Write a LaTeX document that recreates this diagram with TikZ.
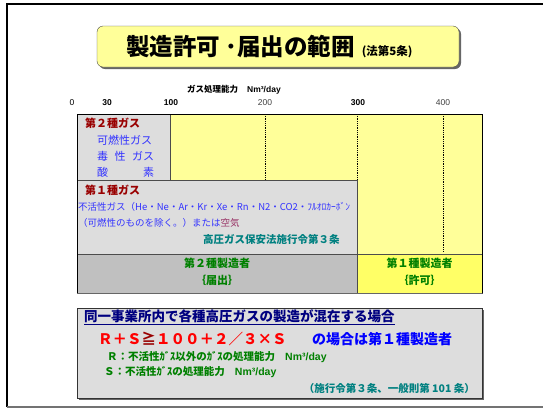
\documentclass[tikz,border=0pt]{standalone}
\usepackage{fontspec}
\setmainfont{Noto Sans CJK JP}
\newfontfamily\arial{Liberation Sans}
\definecolor{lyellow}{HTML}{FFFF99}
\definecolor{byellow}{HTML}{FFFF66}
\definecolor{lgray}{HTML}{DDDDDD}
\definecolor{dgray}{HTML}{C0C0C0}
\definecolor{dred}{HTML}{990000}
\definecolor{jblue}{HTML}{3333FF}
\definecolor{jteal}{HTML}{008080}
\definecolor{jgreen}{HTML}{008000}
\definecolor{jnavy}{HTML}{000080}
\definecolor{jpurple}{HTML}{993366}
\begin{document}
\begin{tikzpicture}[x=1pt,y=-1pt,
  txt/.style={inner sep=0pt, anchor=west},
  tick/.style={inner sep=0pt, font=\arial\fontsize{8.5}{10}\selectfont},
  cell/.style={draw=black!70, line width=0.8pt},
  dotline/.style={densely dotted, line width=0.8pt}]
\useasboundingbox (0,0) rectangle (543,408);
% slide frame
\draw[line width=2pt] (7,407) -- (7,4) -- (543,4);
\draw[black!55, line width=1.5pt] (7,407) -- (543,407);
% title
\fill[black!60, rounded corners=6pt] (99,28) rectangle (461,69);
\node[draw=black!70, fill=lyellow, rounded corners=6pt, minimum width=362pt, minimum height=41pt, inner sep=0pt] (title) at (278,46.5) {};
\node[txt] (titletxt) at (126,47) {\bfseries\fontsize{23.5}{25}\selectfont 製造許可 ･届出の範囲\hspace{7pt}{\fontsize{11.5}{13}\selectfont (法第5条)}};
% axis label & ticks
\node[txt] (axis) at (187,90) {\bfseries\fontsize{8.5}{10}\selectfont ガス処理能力\hspace{9pt}{\arial Nm³/day}};
\node[tick] (t0) at (72,103) {0};
\node[tick, font=\arial\bfseries\fontsize{8.5}{10}\selectfont] (t30) at (107,103) {30};
\node[tick, font=\arial\bfseries\fontsize{8.5}{10}\selectfont] (t100) at (171,103) {100};
\node[tick, text=black!75] (t200) at (265,103) {200};
\node[tick, font=\arial\bfseries\fontsize{8.5}{10}\selectfont] (t300) at (358,103) {300};
\node[tick, text=black!75] (t400) at (443,103) {400};
% chart
\fill[lyellow] (170,114) rectangle (482,254);
\draw[dotline] (265,114) -- (265,252);
\draw[dotline] (443,114) -- (443,252);
\draw[dotline] (357,114) -- (357,180);
\draw[cell, fill=lgray] (77,114) rectangle (170,180);
\draw[cell, fill=lgray] (77,180) rectangle (357,254);
\draw[cell, fill=dgray] (77,254) rectangle (357,293);
\draw[cell, fill=byellow] (357,254) rectangle (482,293);
\draw[black, line width=0.8pt] (77,293) -- (77,114) -- (482,114) -- (482,293);
\draw[black!60, line width=1.5pt] (77,293.5) -- (482,293.5);
% second-class gas
\node[txt, text=dred] (g2) at (85,123) {\bfseries\fontsize{11}{12}\selectfont 第２種ガス};
\node[txt, text=jblue] (g2a) at (97,140) {\fontsize{11}{12}\selectfont 可燃性ガス};
\node[txt, text=jblue] (g2b) at (97,156) {\fontsize{11}{12}\selectfont\makebox[57pt][s]{毒\hfill 性\hfill ガス}};
\node[txt, text=jblue] (g2c) at (97,172) {\fontsize{11}{12}\selectfont\makebox[57pt][s]{酸\hfill 素}};
% first-class gas
\node[txt, text=dred] (g1) at (85,190) {\bfseries\fontsize{11}{12}\selectfont 第１種ガス};
\node[txt, text=jblue] (g1a) at (78,207) {\fontsize{9.5}{11}\selectfont 不活性ガス（He・Ne・Ar・Kr・Xe・Rn・N2・CO2・ﾌﾙｵﾛｶｰﾎﾞﾝ};
\node[txt, text=jblue] (g1b) at (78,223) {\fontsize{9.5}{11}\selectfont （可燃性のものを除く。）または\textcolor{jpurple}{空気}};
\node[txt, text=jteal] (g1c) at (203,239) {\bfseries\fontsize{10.5}{12}\selectfont 高圧ガス保安法施行令第３条};
% manufacturers
\node[inner sep=0pt, text=jgreen, align=center, font=\bfseries\fontsize{11}{17}\selectfont] (m2) at (217,272) {第２種製造者\\｛届出｝};
\node[inner sep=0pt, text=jgreen, align=center, font=\bfseries\fontsize{11}{17}\selectfont] (m1) at (419.5,272) {第１種製造者\\｛許可｝};
% bottom box
\fill[black!60] (79,310) rectangle (484,400);
\draw[black!80, line width=0.8pt, fill=lgray] (77,308) rectangle (482,398);
\node[txt, text=jnavy] (b1) at (84,317) {\bfseries\fontsize{13.5}{15}\selectfont\underline{同一事業所内で各種高圧ガスの製造が混在する場合}};
\node[txt, text=red] (b2) at (98,339) {\bfseries\fontsize{14.5}{16}\selectfont Ｒ＋Ｓ\textcolor{dred}{≧}１００＋２／３×Ｓ};
\node[txt, text=blue] (b3) at (312,339) {\bfseries\fontsize{14}{16}\selectfont の場合は第１種製造者};
\node[txt, text=jgreen] (b4) at (107,357) {\bfseries\fontsize{10.5}{12}\selectfont Ｒ：不活性ｶﾞｽ以外のｶﾞｽの処理能力\hspace{10pt}{\arial Nm³/day}};
\node[txt, text=jgreen] (b5) at (104,372) {\bfseries\fontsize{10.5}{12}\selectfont Ｓ：不活性ｶﾞｽの処理能力\hspace{10pt}{\arial Nm³/day}};
\node[inner sep=0pt, anchor=east, text=jteal] (b6) at (475,388) {\bfseries\fontsize{10.5}{12}\selectfont （施行令第３条、一般則第 101 条）};
\end{tikzpicture}
\end{document}
